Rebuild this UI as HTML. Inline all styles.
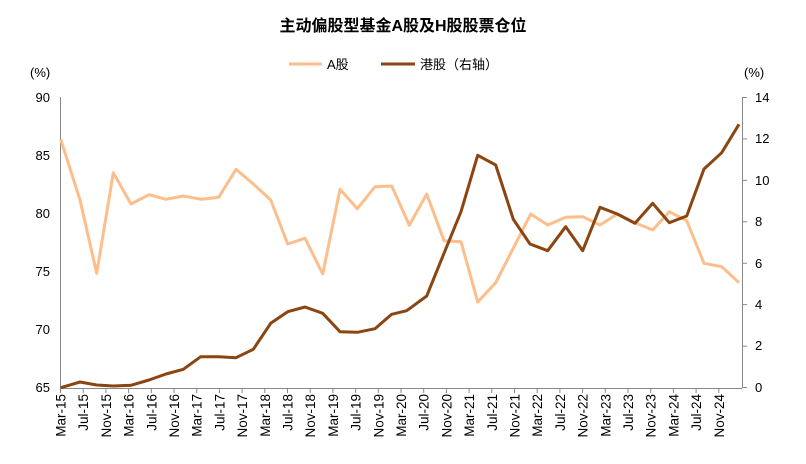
<!DOCTYPE html>
<html><head><meta charset="utf-8"><style>
body{margin:0;background:#fff}
svg text{font-family:"Liberation Sans","Noto Sans CJK SC",sans-serif;fill:#000}
</style></head><body>
<svg width="806" height="459" xmlns="http://www.w3.org/2000/svg">
<text x="403" y="31" text-anchor="middle" font-size="16" font-weight="bold">主动偏股型基金A股及H股股票仓位</text>
<line x1="289" y1="64" x2="322" y2="64" stroke="#FDBE8B" stroke-width="3"/>
<text x="327" y="69" font-size="13">A股</text>
<line x1="381" y1="64" x2="415" y2="64" stroke="#8B4511" stroke-width="3"/>
<text x="420" y="69" font-size="13">港股（右轴）</text>
<text x="30" y="77" font-size="13">(%)</text>
<text x="744" y="77" font-size="13">(%)</text>
<g stroke="#888" stroke-width="1" fill="none">
<line x1="60.5" y1="97" x2="60.5" y2="388"/>
<line x1="742.5" y1="97" x2="742.5" y2="388"/>
<line x1="60" y1="388.5" x2="742" y2="388.5"/>
<path d="M742 97.5h5M742 138.9h5M742 180.4h5M742 221.8h5M742 263.2h5M742 304.6h5M742 346.1h5M742 387.5h5"/>
</g>
<g font-size="13" text-anchor="end">
<text x="50" y="102">90</text><text x="50" y="160">85</text><text x="50" y="218">80</text><text x="50" y="276">75</text><text x="50" y="334">70</text><text x="50" y="392">65</text>
</g>
<g font-size="13">
<text x="755" y="102">14</text><text x="755" y="143">12</text><text x="755" y="185">10</text><text x="755" y="226">8</text><text x="755" y="268">6</text><text x="755" y="309">4</text><text x="755" y="350">2</text><text x="755" y="392">0</text>
</g>
<g id="xt" font-size="13.5" text-anchor="end"></g>
<polyline fill="none" stroke="#FDBE8B" stroke-width="3" stroke-linejoin="round" points="60.7,139.3 80,200 96.7,273.3 113.3,172.7 131,204 149,194.7 166,199.3 183.3,196 201.7,199.3 218.7,197.3 236,169.3 253.3,184 270.7,200 287.7,244 305,238.3 322.7,274 340,189.3 357.3,208.7 375,186.7 391.7,186 409.3,225.3 426.7,194 444,240.7 461,241.7 477.7,302 495.7,282.7 512.7,249.3 530.7,214 547.7,225 565.7,217.3 582.7,216.7 600,225 617.3,214 635,222.7 652.7,230 669.3,211.7 686.7,220.7 704,263.3 721.7,266.7 739,282.7"/>
<polyline fill="none" stroke="#8B4511" stroke-width="3" stroke-linejoin="round" points="60.7,387.7 80,382 96.7,385 113.3,386 131,385.3 149,380 166,374 183.3,369.3 200.7,356.7 218.7,356.7 236,357.7 253.3,349.3 270.7,323.3 287.7,311.7 305,307 322.7,313.3 340,331.7 357.3,332.3 375,328.7 391.7,314.3 406.7,310.7 426.7,296 444,253.3 461,211.7 477.7,155.3 495.7,165 513.3,219.3 530,244 547.7,250.7 565.7,226.7 582.7,250.7 600,207.3 617.3,214 635,223.3 652.7,203.3 669.3,222.7 686.7,216 704,169 721.7,152.7 739,124.3"/>
</svg>
<script>
var g=document.getElementById('xt'),m=['Mar','Jul','Nov'],s='';
for(var i=0;i<30;i++){var x=60.5+i*22.7;var lab=m[i%3]+'-'+(15+Math.floor(i/3));
s+='<line x1="'+x+'" y1="388" x2="'+x+'" y2="393" stroke="#888"/>';
s+='<text transform="translate('+(x+5)+',394) rotate(-90)">'+lab+'</text>';}
g.innerHTML=s;
</script>
</body></html>
